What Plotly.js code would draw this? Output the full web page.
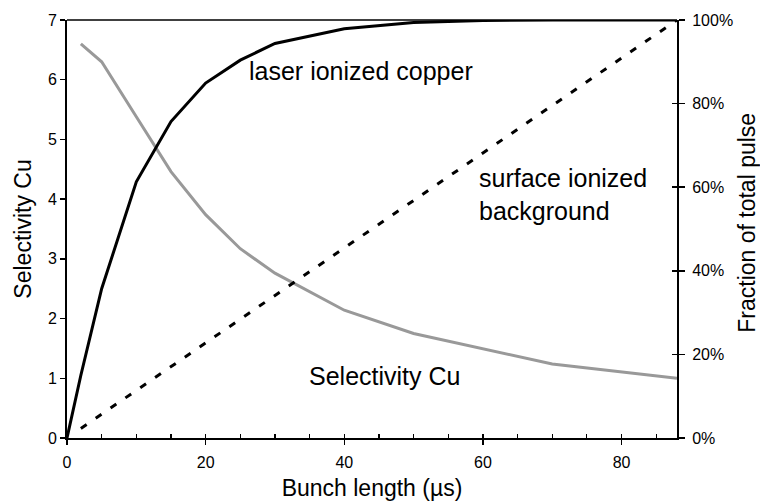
<!DOCTYPE html>
<html>
<head>
<meta charset="utf-8">
<script src="https://cdn.plot.ly/plotly-3.0.1.min.js"></script>
<style>html,body{margin:0;padding:0;background:#fff;}#chart{width:760px;height:502px;}</style>
</head>
<body>
<div id="chart"></div>
<script>
// Bunch length (µs)
const laserX = [0, 2, 5, 10, 15, 20, 25, 30, 40, 50, 60, 70, 88];
const laserFraction = [0, 0.15, 0.357, 0.613, 0.757, 0.849, 0.904, 0.944, 0.979, 0.994, 0.999, 1.0, 1.0];

const surfaceX = [2, 5, 10, 15, 20, 25, 30, 40, 50, 60, 70, 80, 88];
const surfaceFraction = [0.023, 0.057, 0.114, 0.170, 0.227, 0.284, 0.341, 0.455, 0.568, 0.682, 0.795, 0.909, 1.0];

const selectivityX = [2, 5, 10, 15, 20, 25, 30, 40, 50, 70, 88];
const selectivityCu = [6.6, 6.3, 5.38, 4.46, 3.74, 3.17, 2.76, 2.14, 1.75, 1.24, 1.0];

const xTickVals = [0, 20, 40, 60, 80];
const yTickVals = [0, 1, 2, 3, 4, 5, 6, 7];
const y2TickVals = [0, 0.2, 0.4, 0.6, 0.8, 1.0];

const labels = {
  laser: "laser ionized copper",
  surface: "surface ionized<br>background",
  selectivity: "Selectivity Cu",
  xTitle: "Bunch length (µs)",
  yTitle: "Selectivity Cu",
  y2Title: "Fraction of total pulse"
};

const FONT = "Liberation Sans, Arial, Helvetica, sans-serif";

const traces = [
  {x: selectivityX, y: selectivityCu, xaxis: 'x', yaxis: 'y', mode: 'lines',
   line: {color: '#999999', width: 3}, cliponaxis: false, hoverinfo: 'skip'},
  {x: surfaceX, y: surfaceFraction, xaxis: 'x', yaxis: 'y2', mode: 'lines',
   line: {color: '#000000', width: 3, dash: '7px,11px'}, cliponaxis: false, hoverinfo: 'skip'},
  {x: laserX, y: laserFraction, xaxis: 'x', yaxis: 'y2', mode: 'lines',
   line: {color: '#000000', width: 3}, cliponaxis: false, hoverinfo: 'skip'},
  {x: [], y: [], xaxis: 'x2', yaxis: 'y', mode: 'lines', showlegend: false},
  {x: [], y: [], xaxis: 'x', yaxis: 'y3', mode: 'lines', showlegend: false}
];

const layout = {
  width: 760, height: 502,
  margin: {l: 67, r: 83, t: 20, b: 64},
  paper_bgcolor: '#ffffff', plot_bgcolor: '#ffffff',
  showlegend: false,
  font: {family: FONT, size: 16, color: '#000'},
  xaxis: {
    range: [0, 88], tickvals: xTickVals, ticktext: xTickVals.map(String),
    showgrid: false, zeroline: false, showline: true, linecolor: '#000', linewidth: 2,
    ticks: 'outside', ticklen: 5, tickwidth: 1.5, tickcolor: '#000',
    minor: {ticks: 'inside', dtick: 5, ticklen: 4, tickwidth: 1.2, tickcolor: '#000', showgrid: false},
    tickfont: {size: 16}, ticklabelstandoff: 4, fixedrange: true,
    title: {text: labels.xTitle, font: {size: 23}, standoff: 10}
  },
  xaxis2: {
    range: [0, 88], overlaying: 'x', anchor: 'y', tickvals: xTickVals,
    showticklabels: false, showgrid: false, zeroline: false, showline: false,
    ticks: 'inside', ticklen: 4, tickwidth: 1.5, tickcolor: '#000'
  },
  yaxis: {
    range: [0, 7], tickvals: yTickVals, ticktext: yTickVals.map(String),
    showgrid: false, zeroline: false, showline: true, linecolor: '#000', linewidth: 2,
    ticks: 'outside', ticklen: 5, tickwidth: 1.5, tickcolor: '#000',
    tickfont: {size: 16}, fixedrange: true,
    title: {text: labels.yTitle, font: {size: 23}, standoff: 10}
  },
  yaxis2: {
    range: [0, 1], overlaying: 'y', side: 'right', anchor: 'x',
    tickvals: y2TickVals, tickformat: '.0%',
    showgrid: false, zeroline: false, showline: true, linecolor: '#000', linewidth: 2,
    ticks: 'outside', ticklen: 6, tickwidth: 1.5, tickcolor: '#000',
    tickfont: {size: 16}, ticklabelstandoff: 4, fixedrange: true
  },
  yaxis3: {
    range: [0, 1], overlaying: 'y', side: 'right', anchor: 'x',
    tickvals: y2TickVals, showticklabels: false,
    showgrid: false, zeroline: false, showline: false,
    ticks: 'inside', ticklen: 5, tickwidth: 1.5, tickcolor: '#000'
  },
  shapes: [
    {type: 'line', xref: 'paper', yref: 'paper', x0: 0, x1: 1, y0: 1, y1: 1,
     line: {color: '#000', width: 1.5}}
  ],
  annotations: [
    {x: 42.4, y: 6.15, xref: 'x', yref: 'y', text: labels.laser, showarrow: false,
     font: {size: 25}, xanchor: 'center', yanchor: 'middle'},
    {x: 59.1, y: 4.07, xref: 'x', yref: 'y', text: labels.surface, showarrow: false,
     font: {size: 25}, xanchor: 'left', yanchor: 'middle', align: 'left'},
    {x: 45.8, y: 1.04, xref: 'x', yref: 'y', text: labels.selectivity, showarrow: false,
     font: {size: 25}, xanchor: 'center', yanchor: 'middle'},
    {x: 1.1148, y: 0.515, xref: 'paper', yref: 'paper', text: labels.y2Title, showarrow: false,
     textangle: -90, font: {size: 23}, xanchor: 'center', yanchor: 'middle'}
  ]
};

Plotly.newPlot('chart', traces, layout, {staticPlot: true, displayModeBar: false});
</script>
</body>
</html>
